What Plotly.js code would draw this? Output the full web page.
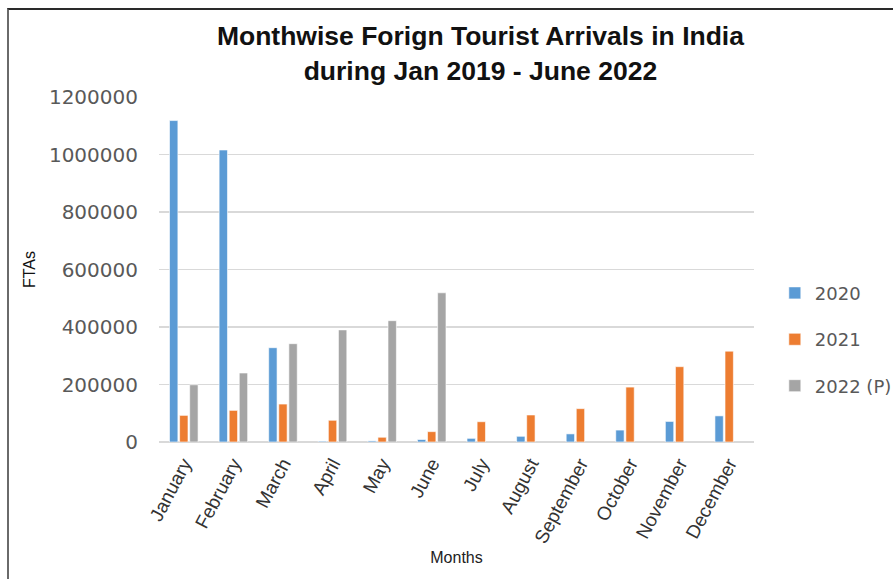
<!DOCTYPE html>
<html>
<head>
<meta charset="utf-8">
<script src="https://cdn.plot.ly/plotly-3.0.1.min.js"></script>
<style>
  html, body { margin: 0; padding: 0; background: #fff; }
  #chart { width: 893px; height: 579px; }
  #frame { position: absolute; left: 7px; top: 8px; width: 890px; height: 575px;
           border-left: 2px solid #6a6a6a; border-top: 2px solid #2a2a2a;
           pointer-events: none; box-sizing: border-box; }
</style>
</head>
<body>
<div id="chart"></div>
<div id="frame"></div>
<script>
const months = ["January","February","March","April","May","June","July","August","September","October","November","December"];
const fta2020 = [1118000, 1015600, 328000, 2800, 3800, 8600, 12700, 19800, 28200, 41500, 71500, 90900];
const fta2021 = [92600, 110000, 132000, 75500, 16500, 36000, 70500, 94000, 116000, 191000, 262000, 316000];
const fta2022 = [199000, 240000, 342000, 390000, 422000, 519000, null, null, null, null, null, null];
const seriesNames = ["2020", "2021", "2022 (P)"];
const seriesColors = ["#5B9BD5", "#ED7D31", "#A5A5A5"];
const yTicks = [0, 200000, 400000, 600000, 800000, 1000000, 1200000];

const allSeries = [fta2020, fta2021, fta2022];
const traces = allSeries.map((vals, i) => ({
  type: "bar",
  x: months,
  y: vals,
  name: seriesNames[i],
  legendgroup: "g" + i,
  marker: { color: seriesColors[i], line: { color: "#ffffff", width: 0.6 } },
  hoverinfo: "x+y+name"
}));

const layout = {
  width: 893, height: 579,
  paper_bgcolor: "#ffffff", plot_bgcolor: "#ffffff",
  margin: { l: 159, r: 139, t: 97, b: 137, autoexpand: false },
  barmode: "group",
  bargap: 0.39,
  bargroupgap: 0.17,
  title: {
    text: "Monthwise Forign Tourist Arrivals in India<br>during Jan 2019 - June 2022",
    font: { family: "Liberation Sans, Arial, sans-serif", size: 26.5, color: "#111111", weight: "bold" },
    xref: "container", x: 0.538, xanchor: "center",
    yref: "container", y: 0.922, yanchor: "top"
  },
  xaxis: {
    type: "category",
    tickangle: -62,
    tickfont: { family: "Liberation Sans, Arial, sans-serif", size: 19, color: "#333333" },
    showgrid: false, zeroline: false, showline: false, ticks: "",
    ticklabelstandoff: 6,
    title: { text: "Months", standoff: 5, font: { family: "Liberation Sans, Arial, sans-serif", size: 16, color: "#222222" } },
    automargin: false
  },
  yaxis: {
    range: [0, 1200000],
    tickvals: yTicks,
    ticktext: yTicks.map(String),
    tickfont: { family: "DejaVu Sans, sans-serif", size: 20, color: "#595959" },
    showgrid: true, gridcolor: "#d9d9d9", gridwidth: 1.5,
    zeroline: true, zerolinecolor: "#d9d9d9", zerolinewidth: 1.5,
    showline: false, ticks: "",
    ticklabelstandoff: 20,
    title: { text: "FTAs", standoff: 9, font: { family: "Liberation Sans, Arial, sans-serif", size: 16, color: "#111111" } },
    automargin: false
  },
  showlegend: true,
  legend: {
    x: 1.035, xanchor: "left", y: 0.485, yanchor: "top",
    font: { family: "DejaVu Sans, sans-serif", size: 18, color: "#595959" },
    traceorder: "grouped", tracegroupgap: 20,
    bgcolor: "rgba(0,0,0,0)"
  }
};

Plotly.newPlot("chart", traces, layout, { displayModeBar: false, staticPlot: true });
</script>
</body>
</html>
